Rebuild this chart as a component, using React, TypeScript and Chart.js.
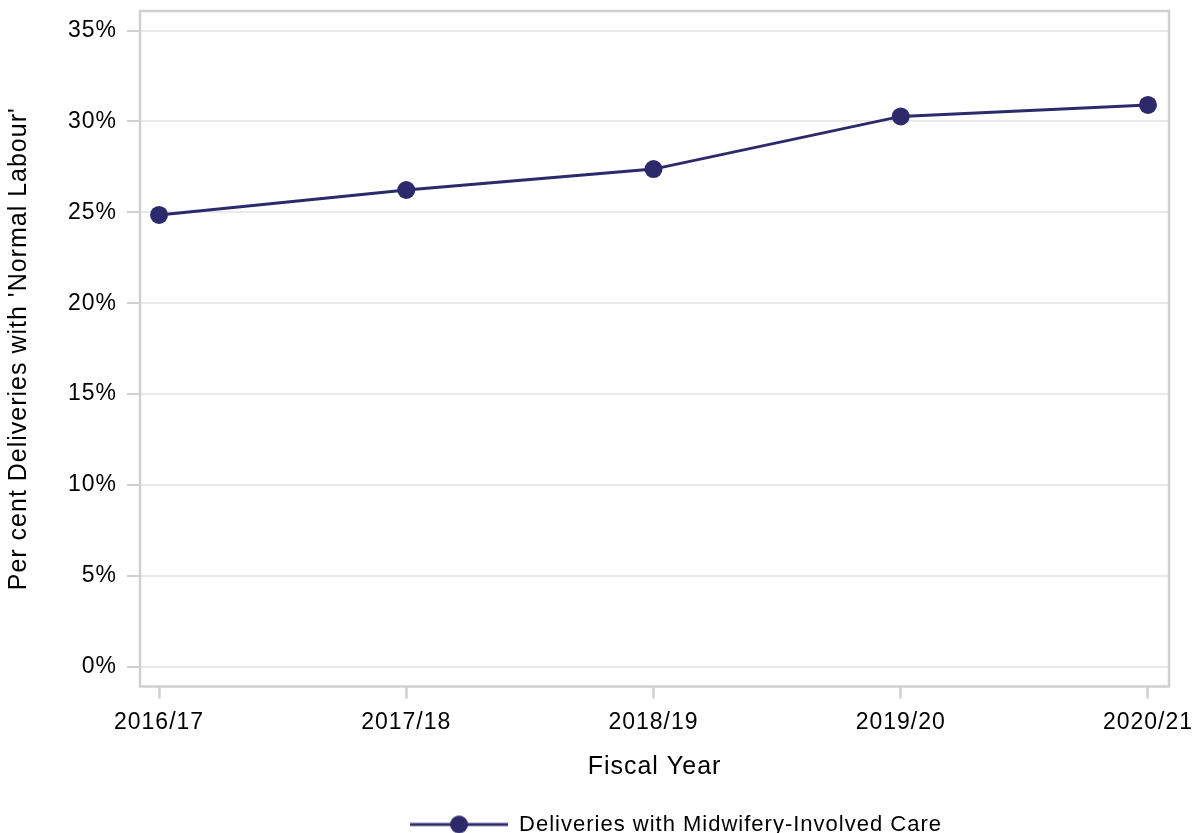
import React, { useEffect, useRef } from 'react';
import { Chart, registerables } from 'chart.js';

Chart.register(...registerables);

// ---- data ----
const categories = ['2016/17', '2017/18', '2018/19', '2019/20', '2020/21'];
const midwiferyValues = [24.86, 26.23, 27.38, 30.28, 30.91];
const yTickValues = [0, 5, 10, 15, 20, 25, 30, 35];
const seriesLabel = 'Deliveries with Midwifery-Involved Care';
const xTitle = 'Fiscal Year';
const yTitle = "Per cent Deliveries with 'Normal Labour'";

// ---- style ----
const LINE = '#2c2a6b';
const FRAME = '#d0d0d0';
const GRID = '#e9e9e9';
const FONT = "'Liberation Sans', Arial, Helvetica, sans-serif";
const SPACING = '1px';
const LEGEND_EXTRA = 183;
const LEGEND_LINE = 98;

function makeLegendSymbol(): HTMLCanvasElement {
  const c = document.createElement('canvas');
  c.width = LEGEND_EXTRA + LEGEND_LINE;
  c.height = 22;
  const ctx = c.getContext('2d')!;
  ctx.strokeStyle = LINE;
  ctx.lineWidth = 3;
  ctx.beginPath();
  ctx.moveTo(LEGEND_EXTRA, 11);
  ctx.lineTo(LEGEND_EXTRA + LEGEND_LINE, 11);
  ctx.stroke();
  ctx.fillStyle = LINE;
  ctx.beginPath();
  ctx.arc(LEGEND_EXTRA + LEGEND_LINE / 2, 11, 9, 0, Math.PI * 2);
  ctx.fill();
  return c;
}

export default function App() {
  const ref = useRef<HTMLCanvasElement>(null);

  useEffect(() => {
    const symbol = makeLegendSymbol();

    const spacingPlugin = {
      id: 'letterSpacing',
      beforeUpdate(c: any) { c.ctx.letterSpacing = SPACING; },
      beforeLayout(c: any) { c.ctx.letterSpacing = SPACING; },
      beforeDraw(c: any) { c.ctx.letterSpacing = SPACING; },
    };

    const framePlugin = {
      id: 'frame',
      beforeDatasetsDraw(c: any) {
        const { ctx, chartArea } = c;
        const { left, top, right, bottom } = chartArea;
        ctx.save();
        ctx.strokeStyle = FRAME;
        ctx.lineWidth = 2.5;
        ctx.strokeRect(left, top, right - left, bottom - top);
        ctx.restore();
      },
    };

    const chart = new Chart(ref.current!, {
      type: 'line',
      data: {
        datasets: [
          {
            label: seriesLabel,
            data: midwiferyValues.map((v, i) => ({ x: i, y: v })),
            borderColor: LINE,
            backgroundColor: LINE,
            borderWidth: 3,
            pointRadius: 9,
            pointHoverRadius: 9,
            pointBackgroundColor: LINE,
            pointBorderWidth: 0,
            tension: 0,
          },
        ],
      },
      options: {
        animation: false,
        responsive: true,
        maintainAspectRatio: false,
        layout: { padding: { left: 0, top: 11, right: 24, bottom: -12.5 } },
        font: { family: FONT },
        plugins: {
          tooltip: { enabled: false },
          legend: {
            position: 'bottom',
            labels: {
              usePointStyle: true,
              pointStyleWidth: LEGEND_EXTRA + LEGEND_LINE,
              padding: 10,
              color: '#000',
              font: { family: FONT, size: 22 },
              generateLabels: () => [
                {
                  text: seriesLabel,
                  pointStyle: symbol as any,
                  fillStyle: LINE,
                  strokeStyle: LINE,
                  lineWidth: 0,
                  hidden: false,
                  datasetIndex: 0,
                },
              ],
            },
          },
        },
        scales: {
          x: {
            type: 'linear',
            min: -0.077,
            max: 4.085,
            offset: false,
            border: { display: false },
            grid: {
              drawOnChartArea: false,
              drawTicks: true,
              tickLength: 12,
              tickColor: FRAME,
              tickWidth: 2.5,
            },
            ticks: {
              padding: 10,
              color: '#000',
              font: { family: FONT, size: 23 },
              maxRotation: 0,
              autoSkip: false,
              callback: (v: any) => categories[v as number] ?? '',
            },
            afterBuildTicks: (s: any) => {
              s.ticks = categories.map((_, i) => ({ value: i }));
            },
            afterFit: (s: any) => {
              s.height = 117;
              s.paddingLeft = 0;
              s.paddingRight = 0;
            },
            title: {
              display: true,
              text: xTitle,
              color: '#000',
              font: { family: FONT, size: 25 },
              padding: { top: 0, bottom: 21 },
            },
          },
          y: {
            type: 'linear',
            min: -1.09,
            max: 36.08,
            border: { display: false },
            grid: {
              color: GRID,
              lineWidth: 2,
              drawTicks: true,
              tickLength: 13,
              tickColor: FRAME,
              tickWidth: 2,
            },
            ticks: {
              padding: 10,
              color: '#000',
              font: { family: FONT, size: 23 },
              callback: (v: any) => `${v}%`,
            },
            afterBuildTicks: (s: any) => {
              s.ticks = yTickValues.map((v) => ({ value: v }));
            },
            afterFit: (s: any) => {
              s.width = 140;
              s.paddingTop = 0;
              s.paddingBottom = 0;
            },
            title: {
              display: true,
              text: yTitle,
              color: '#000',
              font: { family: FONT, size: 25 },
              padding: { top: 4, bottom: 0 },
            },
          },
        },
      },
      plugins: [spacingPlugin, framePlugin],
    } as any);

    return () => chart.destroy();
  }, []);

  return (
    <div style={{ position: 'absolute', left: 0, top: 0, width: 1193, height: 833, background: '#fff' }}>
      <canvas ref={ref} />
    </div>
  );
}
